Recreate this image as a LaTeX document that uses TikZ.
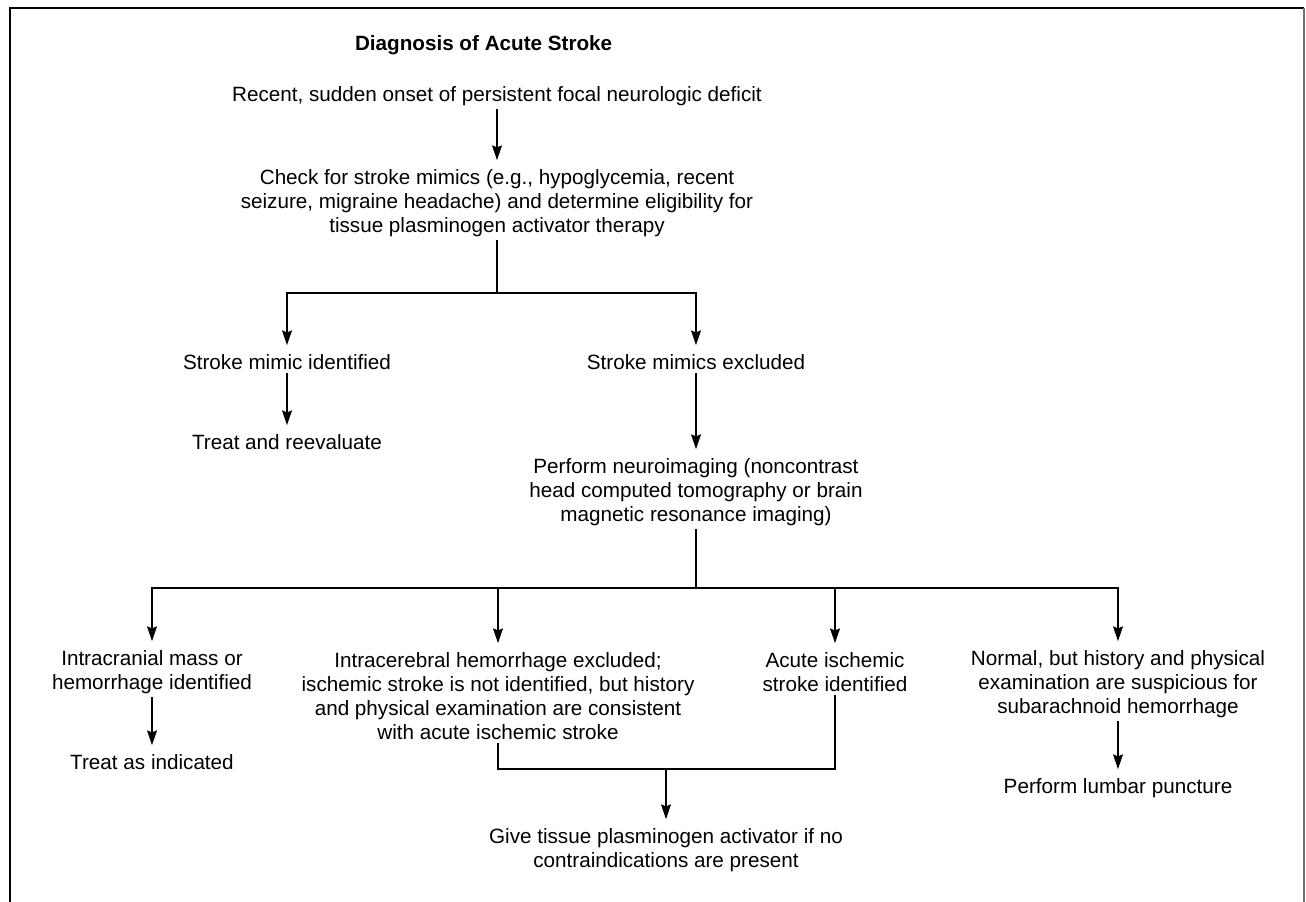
\documentclass[tikz,border=0pt]{standalone}
\usepackage{fontspec}
\setmainfont{Liberation Sans}
\usetikzlibrary{arrows.meta}
\begin{document}
\begin{tikzpicture}[x=0.75pt,y=-0.75pt,
  txt/.style={align=center, inner sep=0pt, outer sep=0pt, font=\fontsize{15.5}{18}\selectfont},
  ttl/.style={inner sep=0pt, outer sep=0pt, font=\fontsize{15.5}{18}\selectfont\bfseries},
  ln/.style={line width=0.8pt, shorten <=2.6pt},
  arr/.style={line width=0.8pt, -{Stealth[length=11pt,width=7.5pt,inset=1.5pt]}, shorten >=7pt, shorten <=2.6pt},
  jn/.style={line width=0.8pt, -{Stealth[length=11pt,width=7.5pt,inset=1.5pt]}, shorten >=7pt}]
\useasboundingbox (0,0) rectangle (1306,902);
% frame
\draw[line width=1.2pt] (10,902) -- (10,8) -- (1304,8);
\draw[line width=0.8pt, black!55] (1304,8) -- (1304,902);
% nodes
\node[ttl, anchor=west] (title) at (355,45) {Diagnosis of Acute Stroke};
\node[txt] (n1) at (497,96) {Recent, sudden onset of persistent focal neurologic deficit};
\node[txt] (n2) at (497,203) {Check for stroke mimics (e.g., hypoglycemia, recent\\seizure, migraine headache) and determine eligibility for\\tissue plasminogen activator therapy};
\node[txt] (a1) at (287,362) {Stroke mimic identified};
\node[txt] (a2) at (696,362) {Stroke mimics excluded};
\node[txt] (b1) at (287,442) {Treat and reevaluate};
\node[txt] (b2) at (696,492) {Perform neuroimaging (noncontrast\\head computed tomography or brain\\magnetic resonance imaging)};
\node[txt] (c1) at (152,672) {Intracranial mass or\\hemorrhage identified};
\node[txt] (c2) at (498,696) {Intracerebral hemorrhage excluded;\\ischemic stroke is not identified, but history\\and physical examination are consistent\\with acute ischemic stroke};
\node[txt] (c3) at (835,672) {Acute ischemic\\stroke identified};
\node[txt] (c4) at (1118,684) {Normal, but history and physical\\examination are suspicious for\\subarachnoid hemorrhage};
\node[txt] (d1) at (152,762) {Treat as indicated};
\node[txt] (d4) at (1118,788) {Perform lumbar puncture};
\node[txt] (e) at (666,850) {Give tissue plasminogen activator if no\\contraindications are present};
% junctions
\coordinate (s1) at (497,293);
\coordinate (s2) at (696,588);
\coordinate (j) at (666,769);
% connectors
\draw[arr] (n1) -- (n2);
\draw[ln] (n2.south) -- (s1);
\draw[jn] (s1) -| (a1);
\draw[jn] (s1) -| (a2);
\draw[arr] (a1) -- (b1);
\draw[arr] (a2) -- (b2);
\draw[ln] (b2.south) -- (s2);
\draw[jn] (s2) -| (c1);
\draw[jn] (s2) -| (c2);
\draw[jn] (s2) -| (c3);
\draw[jn] (s2) -| (c4);
\draw[arr] (c1) -- (d1);
\draw[arr] (c4) -- (d4);
\draw[ln] (c2.south) |- (j);
\draw[ln] (c3.south) |- (j);
\draw[jn] (j) -- (e);
\end{tikzpicture}
\end{document}
